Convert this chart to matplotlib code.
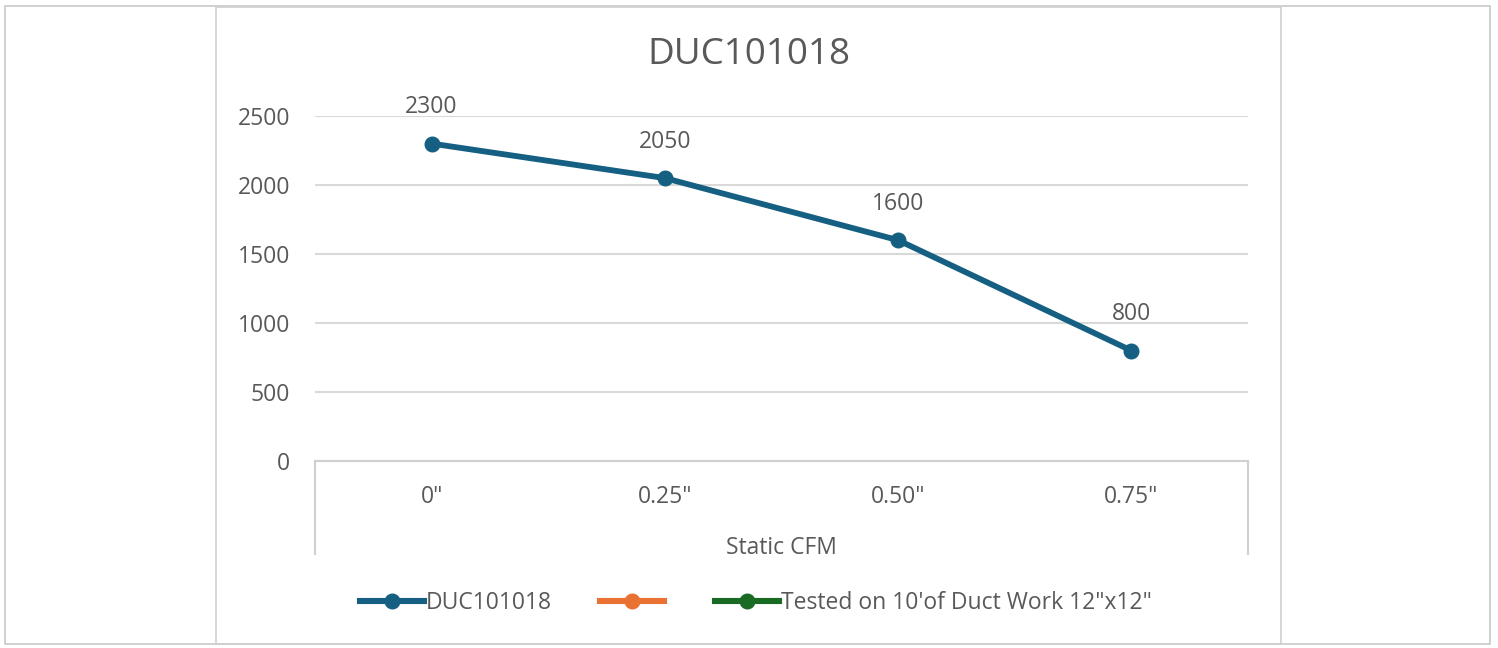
import matplotlib.pyplot as plt
from matplotlib.patches import Rectangle
from matplotlib.lines import Line2D

# data
categories = ['0"', '0.25"', '0.50"', '0.75"']
cfm = [2300, 2050, 1600, 800]
series_names = ["DUC101018", "", "Tested on 10'of Duct Work 12\"x12\""]
colors = ["#156082", "#E97132", "#196B24"]
y_ticks = [0, 500, 1000, 1500, 2000, 2500]

W, H = 1498, 648
plt.rcParams['font.family'] = ['Open Sans', 'DejaVu Sans']
text_color = "#595959"
fs = 16.5

fig = plt.figure(figsize=(W / 100, H / 100), dpi=100)
fig.patch.set_facecolor("white")

# outer frames (px coords -> figure fraction)
def px_rect(x0, y0, x1, y1, **kw):
    return Rectangle((x0 / W, 1 - y1 / H), (x1 - x0) / W, (y1 - y0) / H,
                     transform=fig.transFigure, fill=False, **kw)

fig.patches.append(px_rect(5, 6, 1490, 644, edgecolor="#C8C8C8", linewidth=1.2))
fig.patches.append(px_rect(216, 7, 1281, 644, edgecolor="#D0D0D0", linewidth=1.2))

left, right, bottom, top = 315, 1248, 461, 116
ax = fig.add_axes([left / W, 1 - bottom / H, (right - left) / W, (bottom - top) / H])

x = list(range(len(categories)))
ax.plot(x, cfm, color=colors[0], linewidth=4.2, marker="o", markersize=10.5,
        solid_capstyle="round", zorder=3)
for xi, v in zip(x, cfm):
    ax.annotate(str(v), (xi, v), xytext=(0, 26), textcoords="offset points",
                ha="center", va="center", fontsize=fs, color=text_color)

ax.set_xlim(-0.5, len(categories) - 0.5)
ax.set_ylim(0, 2500)
ax.set_yticks(y_ticks)
ax.set_xticks(x)
ax.set_xticklabels(categories)
ax.grid(axis="y", color="#D9D9D9", linewidth=1.5)
ax.set_axisbelow(True)
for s in ["top", "right", "left"]:
    ax.spines[s].set_visible(False)
ax.spines["bottom"].set_color("#D0D0D0")
ax.spines["bottom"].set_linewidth(1.5)
ax.tick_params(axis="both", length=0, labelsize=fs, labelcolor=text_color)
ax.tick_params(axis="y", pad=18)
ax.tick_params(axis="x", pad=17)

# category box side lines
for xa in (0, 1):
    ax.add_line(Line2D([xa, xa], [0, -0.27], transform=ax.transAxes,
                       color="#D0D0D0", linewidth=1.5, clip_on=False))

fig.text(781 / W, 1 - 548 / H, "Static CFM", ha="center", va="center",
         fontsize=fs, color=text_color)
fig.text(749 / W, 1 - 55 / H, "DUC101018", ha="center", va="center",
         fontsize=26.5, color=text_color)

handles = [Line2D([], [], color=c, linewidth=4.4, marker="o", markersize=10.5)
           for c in colors]
fig.legend(handles, series_names, loc="center", bbox_to_anchor=(756 / W, 1 - 603 / H),
           ncol=3, frameon=False, fontsize=fs, labelcolor=text_color,
           handlelength=2.8, handletextpad=0.1, columnspacing=2.1)

fig.savefig("out.png", dpi=100, facecolor="white")
